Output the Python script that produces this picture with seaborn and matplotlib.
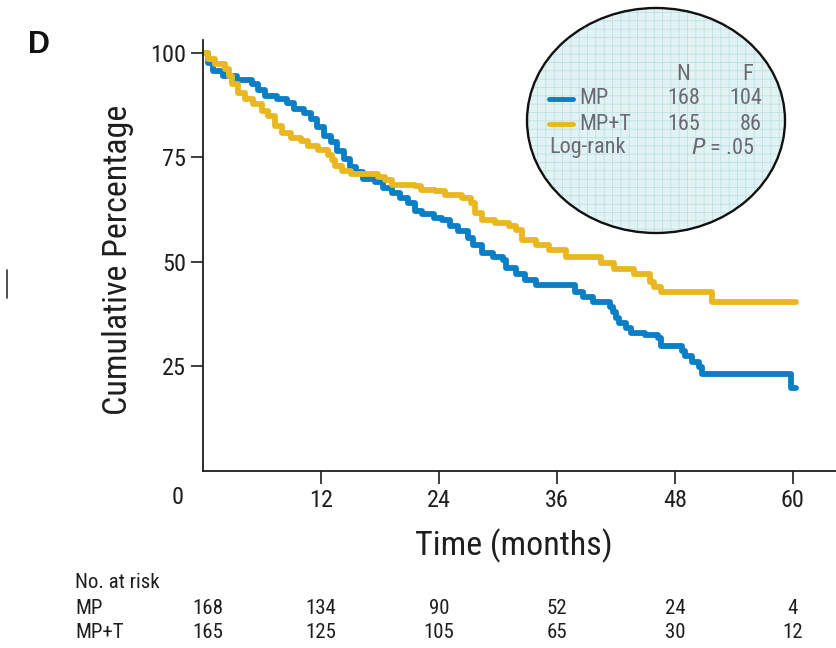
import matplotlib
matplotlib.use("Agg")
import matplotlib.pyplot as plt
from matplotlib.patches import Ellipse
from matplotlib.lines import Line2D
import matplotlib.transforms as mtransforms
import pandas as pd
import seaborn as sns

# Kaplan-Meier step curves (months, cumulative percentage)
mp_time = [0, 0.5, 1.0, 2.0, 3.5, 5.0, 5.6, 6.3, 7.5, 8.5, 9.3, 10.3, 11.0, 11.6,
           12.3, 13.0, 13.6, 14.3, 15.0, 15.6, 16.3, 17.5, 18.3, 19.2, 20.0, 20.9,
           21.6, 22.3, 23.5, 24.3, 25.1, 25.9, 27.0, 27.5, 28.4, 29.5, 30.5, 30.8,
           31.8, 32.8, 33.9, 37.8, 38.7, 39.7, 41.4, 41.7, 42.0, 42.3, 43.0, 43.5,
           45.0, 46.3, 46.6, 48.7, 49.0, 49.7, 50.5, 50.8, 59.8, 60.3]
mp_pct = [100, 97.5, 95.5, 94.5, 93.5, 92.5, 91.0, 89.5, 89.0, 88.0, 86.5, 85.5, 84.0,
          82.3, 80.0, 78.5, 76.5, 74.5, 72.7, 71.3, 69.8, 69.0, 67.7, 66.5, 65.3, 64.0,
          62.0, 61.3, 60.5, 60.0, 58.5, 57.3, 55.7, 54.0, 52.0, 51.2, 50.4, 48.5,
          47.0, 45.6, 44.4, 42.8, 41.5, 40.3, 39.0, 38.0, 36.5, 35.3, 34.0, 33.0,
          32.4, 31.6, 29.8, 28.6, 27.4, 26.0, 24.8, 23.0, 19.8, 19.8]

mpt_time = [0, 0.5, 1.2, 2.2, 2.6, 2.9, 3.6, 4.3, 5.1, 6.0, 6.6, 7.3, 8.0, 9.0, 10.0,
            10.7, 11.7, 12.7, 13.1, 13.4, 14.1, 15.1, 17.8, 18.5, 19.2, 21.6, 22.2,
            23.6, 24.6, 26.3, 27.3, 27.7, 28.4, 29.7, 31.1, 31.8, 32.5, 33.9, 35.2,
            36.9, 40.5, 41.8, 43.8, 45.5, 45.9, 46.6, 51.8, 60.3]
mpt_pct = [100, 98.4, 97.2, 96.0, 94.4, 92.4, 90.4, 88.8, 87.6, 86.0, 84.8, 82.4, 80.8,
           79.6, 78.8, 77.6, 76.8, 75.6, 74.4, 72.8, 71.6, 71.0, 70.3, 69.6, 68.4, 68.0,
           67.2, 66.8, 66.0, 65.2, 64.0, 61.6, 60.0, 59.2, 58.4, 57.6, 55.2, 54.0, 52.8,
           51.0, 49.6, 48.2, 47.0, 45.0, 44.0, 42.8, 40.2, 40.2]

arms = ["MP", "MP+T"]
arm_colors = {"MP": "#0a7fc6", "MP+T": "#e9b820"}
n_patients = [168, 165]
n_events = [104, 86]
p_value_text = ".05"

x_ticks = [12, 24, 36, 48, 60]
y_ticks = [25, 50, 75, 100]
risk_times = [0, 12, 24, 36, 48, 60]
risk_mp = [168, 134, 90, 52, 24, 4]
risk_mpt = [165, 125, 105, 65, 30, 12]

df = pd.concat([
    pd.DataFrame({"time": mp_time, "pct": mp_pct, "arm": "MP"}),
    pd.DataFrame({"time": mpt_time, "pct": mpt_pct, "arm": "MP+T"}),
])

sns.set_style("ticks")
FONT = ["Roboto Condensed", "DejaVu Sans"]
plt.rcParams["font.family"] = FONT
plt.rcParams["hatch.linewidth"] = 0.6

W, H = 837, 648
INK = "#1e1e1e"
fig = plt.figure(figsize=(W / 100, H / 100), dpi=100)
ax = fig.add_axes([203 / W, 1 - 470.5 / H, 1 - 203 / W, (470.5 - 40) / H])

sns.lineplot(data=df, x="time", y="pct", hue="arm", palette=arm_colors,
             estimator=None, drawstyle="steps-post", linewidth=4.2,
             legend=False, ax=ax)

ax.set_xlim(0, 64.5)
ax.set_ylim(0, 103)
ax.set_xticks(x_ticks)
ax.set_yticks(y_ticks)
ax.set_xlabel("")
ax.set_ylabel("")
for side in ["top", "right"]:
    ax.spines[side].set_visible(False)
for side in ["left", "bottom"]:
    ax.spines[side].set_linewidth(1.3)
    ax.spines[side].set_color(INK)
ax.tick_params(axis="both", direction="out", length=9, width=1.2,
               color=INK, labelsize=17.5, labelcolor=INK)
ax.tick_params(axis="x", pad=4)
ax.tick_params(axis="y", pad=3)

# "0" label sits at the corner of the two axes
fig.text(178 / W, 1 - 497 / H, "0", ha="center", va="center", fontsize=17.5,
         color=INK)

fig.text(118 / W, 1 - 260 / H, "Cumulative Percentage", rotation=90,
         ha="center", va="center", fontsize=24.5, color=INK)
fig.text(514 / W, 1 - 546 / H, "Time (months)", ha="center", va="center",
         fontsize=24.5, color=INK)
fig.text(39 / W, 1 - 45 / H, "D", ha="center", va="center", fontsize=22,
         fontweight="bold", color="#111111", family=["Liberation Sans", "DejaVu Sans"])
fig.add_artist(Line2D([7 / W, 7 / W], [1 - 270 / H, 1 - 298 / H],
                      transform=fig.transFigure, color="#333333", lw=1.2))

# number at risk table
RS = 15
risk_tr = mtransforms.blended_transform_factory(ax.transData, fig.transFigure)
fig.text(75 / W, 1 - 583 / H, "No. at risk", ha="left", va="center",
         fontsize=RS, color=INK)
for label, row, ypx in [("MP", risk_mp, 609), ("MP+T", risk_mpt, 632)]:
    fig.text(75 / W, 1 - ypx / H, label, ha="left", va="center",
             fontsize=RS, color=INK)
    for t, n in zip(risk_times, row):
        xt = t + 0.5 if t == 0 else t
        ax.text(xt, 1 - ypx / H, str(n), transform=risk_tr, ha="center",
                va="center", fontsize=RS, color=INK, clip_on=False)

# circular key with fine grid fill
ecx, ecy, ew, eh = 656 / W, 1 - 120.5 / H, 258 / W, 225 / H
fig.add_artist(Ellipse((ecx, ecy), ew, eh, transform=fig.transFigure,
                       facecolor="#e3f3f3", edgecolor="#bfe1e5", hatch="++",
                       linewidth=0, zorder=5))
fig.add_artist(Ellipse((ecx, ecy), ew, eh, transform=fig.transFigure,
                       facecolor="none", edgecolor="#111111", linewidth=1.7,
                       zorder=6))
key_color = "#6a6a72"
KS = 16
fig.text(683 / W, 1 - 74 / H, "N", ha="center", va="center", fontsize=KS,
         color=key_color, zorder=7)
fig.text(748 / W, 1 - 74 / H, "F", ha="center", va="center", fontsize=KS,
         color=key_color, zorder=7)
for arm, n, f, ypx in zip(arms, n_patients, n_events, [99, 124]):
    fig.add_artist(Line2D([549 / W, 573 / W], [1 - ypx / H, 1 - ypx / H],
                          transform=fig.transFigure, color=arm_colors[arm],
                          lw=3.5, zorder=7))
    fig.text(579 / W, 1 - ypx / H, arm, ha="left", va="center", fontsize=KS,
             color=key_color, zorder=7)
    fig.text(684 / W, 1 - ypx / H, str(n), ha="center", va="center",
             fontsize=KS, color=key_color, zorder=7)
    fig.text(762 / W, 1 - ypx / H, str(f), ha="right", va="center",
             fontsize=KS, color=key_color, zorder=7)
fig.text(549 / W, 1 - 148 / H, "Log-rank", ha="left", va="center",
         fontsize=KS, color=key_color, zorder=7)
fig.text(754 / W, 1 - 148 / H, "$\\it{P}$ = " + p_value_text, ha="right",
         va="center", fontsize=KS, color=key_color, zorder=7)

fig.savefig("out.png", dpi=100)
